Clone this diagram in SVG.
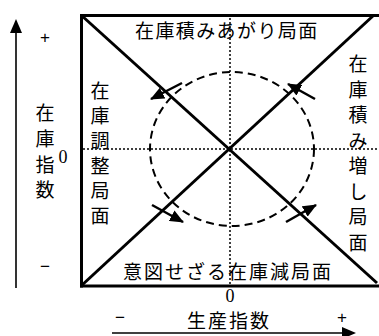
<svg xmlns="http://www.w3.org/2000/svg" width="379" height="336" viewBox="0 0 379 336">
<style>
.jp{font-family:"Noto Sans CJK JP","Noto Sans",sans-serif;font-size:19px;fill:#000}
.num{font-family:"Liberation Serif",serif;font-size:18px;fill:#000}
.sign{font-family:"Liberation Sans",sans-serif;font-size:17px;fill:#000}
.frame{stroke:#000;stroke-width:3;fill:none}
.dot{stroke:#000;stroke-width:1.5;stroke-dasharray:2 2;fill:none}
.tick{stroke:#000;stroke-width:2.5;fill:none}
.axis{stroke:#000;stroke-width:1.6;fill:none}
</style>
<defs>
<marker id="ah" markerUnits="userSpaceOnUse" markerWidth="14" markerHeight="12" refX="13" refY="6" orient="auto">
<path d="M0,0 L14,6 L0,12 Z" fill="#000"/>
</marker>
</defs>
<g id="frame">
<line class="frame" x1="80" y1="15.5" x2="379" y2="15.5"/>
<line class="frame" x1="80" y1="286" x2="379" y2="286"/>
<line class="frame" x1="81.5" y1="14" x2="81.5" y2="287.5"/>
</g>
<g id="guides">
<line class="dot" x1="230" y1="18" x2="230" y2="286"/>
<line class="dot" x1="83" y1="149" x2="378" y2="149"/>
<ellipse cx="232" cy="149" rx="82" ry="77" fill="none" stroke="#000" stroke-width="2" stroke-dasharray="8 5"/>
</g>
<g id="connectors">
<line class="frame" x1="81" y1="15" x2="377" y2="283"/>
<line class="frame" x1="81" y1="286" x2="374" y2="15"/>
<line class="tick" x1="182" y1="83" x2="151" y2="99" marker-end="url(#ah)"/>
<line class="tick" x1="315" y1="99" x2="288" y2="84" marker-end="url(#ah)"/>
<line class="tick" x1="152" y1="205" x2="183" y2="222" marker-end="url(#ah)"/>
<line class="tick" x1="286" y1="222" x2="316" y2="205" marker-end="url(#ah)"/>
<line class="axis" x1="16" y1="288" x2="16" y2="32"/>
<path d="M16,19 L22,33 L10,33 Z" fill="#000"/>
<line class="axis" x1="112" y1="333" x2="343" y2="333"/>
<path d="M356,333 L342,327 L342,339 Z" fill="#000"/>
</g>
<g id="top-label"><text class="jp" x="135" y="38" letter-spacing="1.4">在庫積みあがり局面</text></g>
<g id="bottom-label"><text class="jp" x="123" y="279" letter-spacing="2">意図せざる在庫減局面</text></g>
<g id="left-label"><text class="jp" text-anchor="middle"><tspan x="100" y="98">在</tspan><tspan x="100" y="123">庫</tspan><tspan x="100" y="148">調</tspan><tspan x="100" y="173">整</tspan><tspan x="100" y="198">局</tspan><tspan x="100" y="223">面</tspan></text></g>
<g id="right-label"><text class="jp" text-anchor="middle"><tspan x="358" y="71">在</tspan><tspan x="358" y="97">庫</tspan><tspan x="358" y="122">積</tspan><tspan x="358" y="148">み</tspan><tspan x="358" y="173">増</tspan><tspan x="358" y="199">し</tspan><tspan x="358" y="224">局</tspan><tspan x="358" y="250">面</tspan></text></g>
<g id="y-axis-label"><text class="jp" text-anchor="middle"><tspan x="45" y="120">在</tspan><tspan x="45" y="146">庫</tspan><tspan x="45" y="172">指</tspan><tspan x="45" y="197">数</tspan></text>
<text class="num" x="63" y="163" text-anchor="middle">0</text>
<text class="sign" x="45" y="43" text-anchor="middle">+</text>
<text class="sign" x="45" y="272" text-anchor="middle">−</text></g>
<g id="x-axis-label"><text class="jp" x="187" y="328" letter-spacing="2">生産指数</text>
<text class="num" x="230" y="302" text-anchor="middle">0</text>
<text class="sign" x="120" y="323" text-anchor="middle">−</text>
<text class="sign" x="342" y="323" text-anchor="middle">+</text></g>
</svg>
